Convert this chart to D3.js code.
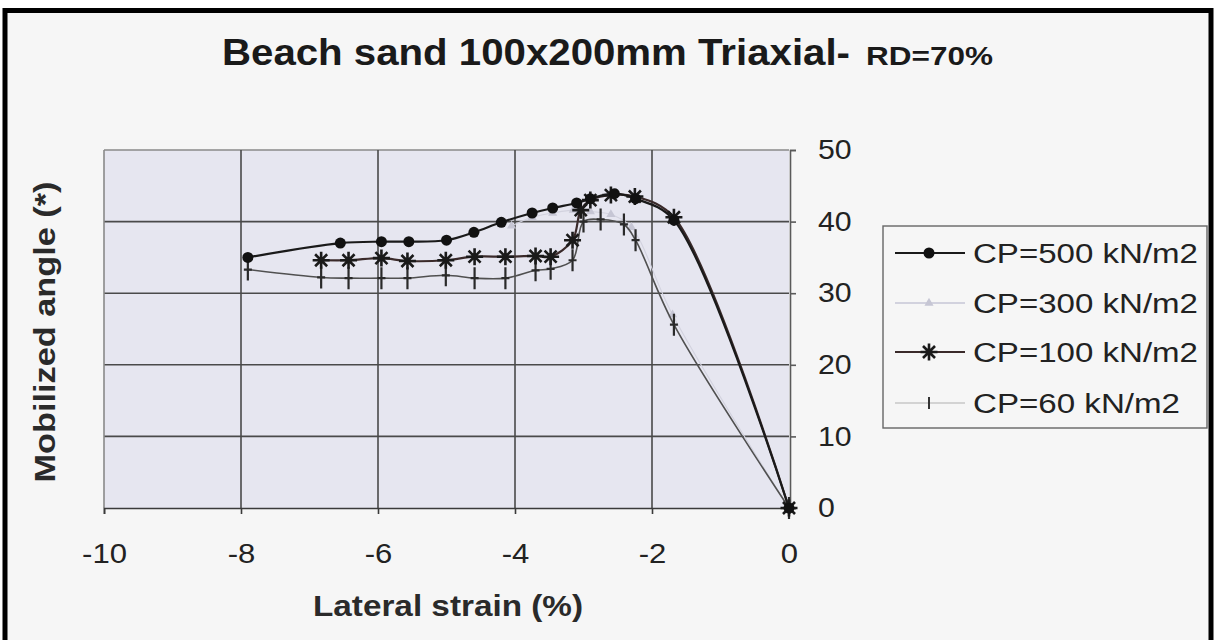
<!DOCTYPE html>
<html>
<head>
<meta charset="utf-8">
<script src="https://cdn.jsdelivr.net/npm/d3@7"></script>
<style>
  html, body { margin: 0; padding: 0; background: #ffffff; }
  svg { display: block; font-family: "Liberation Sans", Arial, sans-serif; }
</style>
</head>
<body>
<svg id="chart" width="1215" height="640"></svg>
<script>
// Axis ticks
const xTicks = [-10, -8, -6, -4, -2, 0];
const yTicks = [0, 10, 20, 30, 40, 50];

// Series labels
const seriesLabels = ["CP=500 kN/m2", "CP=300 kN/m2", "CP=100 kN/m2", "CP=60 kN/m2"];

// CP = 500 kN/m2
const strain500 = [-7.9, -6.55, -5.95, -5.55, -5.0, -4.6, -4.2, -3.75, -3.45, -3.1, -2.9, -2.55, -2.24, -1.68, 0];
const angle500  = [35.0, 37.0, 37.2, 37.2, 37.4, 38.5, 39.9, 41.2, 41.9, 42.6, 43.2, 43.9, 43.2, 40.2, 0];

// CP = 300 kN/m2
const strain300 = [-4.05, -3.75, -3.45, -3.15, -2.9, -2.6, -2.3, -1.7, 0];
const angle300  = [39.4, 40.6, 41.2, 41.6, 41.4, 41.0, 39.2, 27.0, 0];

// CP = 100 kN/m2
const strain100 = [-6.83, -6.43, -5.95, -5.57, -5.01, -4.59, -4.14, -3.70, -3.48, -3.16, -3.04, -2.9, -2.6, -2.25, -1.68, 0];
const angle100  = [34.6, 34.6, 34.9, 34.5, 34.6, 35.1, 35.1, 35.2, 35.1, 37.4, 41.6, 43.0, 43.7, 43.5, 40.6, 0];

// CP = 60 kN/m2
const strain60 = [-7.9, -6.83, -6.43, -5.95, -5.57, -5.01, -4.59, -4.14, -3.70, -3.48, -3.16, -3.0, -2.75, -2.41, -2.24, -1.68, 0];
const angle60  = [33.3, 32.2, 32.1, 32.1, 32.1, 32.5, 32.1, 32.1, 33.2, 33.4, 34.6, 40.0, 40.3, 39.6, 37.4, 25.6, 0];

const svg = d3.select("#chart");

// Page background and frame
svg.append("rect").attr("x", 0).attr("y", 0).attr("width", 1215).attr("height", 640).attr("fill", "#ffffff");
svg.append("rect").attr("x", 5).attr("y", 10.5).attr("width", 1206).attr("height", 640)
  .attr("fill", "#f6f6f6").attr("stroke", "#000").attr("stroke-width", 5);

const x = d3.scaleLinear().domain([-10, 0]).range([104, 789]);
const y = d3.scaleLinear().domain([0, 50]).range([508, 150]);

// Plot area
svg.append("rect")
  .attr("x", x(-10)).attr("y", y(50))
  .attr("width", x(0) - x(-10)).attr("height", y(0) - y(50))
  .attr("fill", "#e6e6f0");

// Gridlines
const grid = svg.append("g").attr("stroke-width", 1.6);
grid.selectAll("line.h").data(yTicks.filter(d => d > 0)).join("line")
  .attr("x1", x(-10)).attr("x2", x(0)).attr("y1", d => y(d)).attr("y2", d => y(d))
  .attr("stroke", d => d === 50 ? "#8a8a8a" : "#4a4a4a");
grid.selectAll("line.v").data(xTicks.filter(d => d < 0)).join("line")
  .attr("y1", y(0)).attr("y2", y(50)).attr("x1", d => x(d)).attr("x2", d => x(d))
  .attr("stroke", d => d === -10 ? "#8a8a8a" : "#4a4a4a");

// Stretch helper for text widths
function stretch(sel, sx) {
  sel.each(function () {
    const w = this.getComputedTextLength();
    d3.select(this).attr("textLength", w * sx).attr("lengthAdjust", "spacingAndGlyphs");
  });
}

// Bottom axis
const xAxis = svg.append("g").attr("transform", `translate(0,${y(0)})`)
  .call(d3.axisBottom(x).tickValues(xTicks).tickSize(6).tickPadding(30).tickFormat(d3.format("d")));
xAxis.select(".domain").attr("stroke", "#3a3a3a").attr("stroke-width", 1.6);
xAxis.selectAll(".tick line").attr("stroke", "#3a3a3a").attr("stroke-width", 1.6);
xAxis.selectAll(".tick text").attr("font-size", 27).attr("fill", "#222")
  .attr("font-family", "Liberation Sans, Arial, sans-serif")
  .text(d => d < 0 ? "-" + Math.abs(d) : d);
stretch(xAxis.selectAll(".tick text"), 1.15);

// Right axis
const yAxis = svg.append("g").attr("transform", `translate(${x(0) + 1},0)`)
  .call(d3.axisRight(y).tickValues(yTicks).tickSize(6).tickPadding(22));
yAxis.select(".domain").attr("stroke", "#5a5a5a").attr("stroke-width", 1.6);
yAxis.selectAll(".tick line").attr("stroke", "#5a5a5a").attr("stroke-width", 1.6);
yAxis.selectAll(".tick text").attr("font-size", 27).attr("fill", "#222")
  .attr("font-family", "Liberation Sans, Arial, sans-serif");
stretch(yAxis.selectAll(".tick text"), 1.12);

// Marker shapes
function drawMarker(g, kind, cx, cy, color) {
  if (kind === "circle") {
    g.append("circle").attr("cx", cx).attr("cy", cy).attr("r", 5.5).attr("fill", color);
  } else if (kind === "triangle") {
    g.append("path").attr("transform", `translate(${cx},${cy})`)
      .attr("d", d3.symbol(d3.symbolTriangle, 36)()).attr("fill", color);
  } else if (kind === "asterisk") {
    const r = 8.5;
    const p = [];
    for (let k = 0; k < 4; k++) {
      const a = k * Math.PI / 4;
      p.push(`M${cx - r * Math.cos(a)},${cy - r * Math.sin(a)}L${cx + r * Math.cos(a)},${cy + r * Math.sin(a)}`);
    }
    g.append("path").attr("d", p.join("")).attr("stroke", color).attr("stroke-width", 2.6).attr("fill", "none");
  } else if (kind === "plus") {
    g.append("path").attr("d", `M${cx},${cy - 11}L${cx},${cy + 11}M${cx - 4},${cy}L${cx + 4},${cy}`)
      .attr("stroke", color).attr("stroke-width", 2.2).attr("fill", "none");
  }
}

const series = [
  { label: seriesLabels[0], xs: strain500, ys: angle500, line: "#1a1a1a", width: 2.2, marker: "circle", mcolor: "#111" },
  { label: seriesLabels[1], xs: strain300, ys: angle300, line: "#d2d2de", width: 1.1, marker: "triangle", mcolor: "#c6c6d4" },
  { label: seriesLabels[2], xs: strain100, ys: angle100, line: "#3a2a2a", width: 2.2, marker: "asterisk", mcolor: "#1a1a1a" },
  { label: seriesLabels[3], xs: strain60, ys: angle60, line: "#505050", width: 1.6, marker: "plus", mcolor: "#2a2a2a" }
];

const lineGen = d3.line().x(d => x(d[0])).y(d => y(d[1])).curve(d3.curveCatmullRom.alpha(0.5));

// Draw series back to front so the heavy curves sit on top
[1, 3, 2, 0].forEach(i => {
  const s = series[i];
  const pts = s.xs.map((v, j) => [v, s.ys[j]]);
  const g = svg.append("g");
  g.append("path").attr("d", lineGen(pts)).attr("fill", "none")
    .attr("stroke", s.line).attr("stroke-width", s.width);
  pts.forEach(p => drawMarker(g, s.marker, x(p[0]), y(p[1]), s.mcolor));
});

// Title
const title = svg.append("text").attr("x", 222).attr("y", 65).attr("fill", "#1a1a1a").attr("font-weight", "bold");
title.append("tspan").attr("font-size", 37).text("Beach sand 100x200mm Triaxial-")
  .attr("textLength", 628).attr("lengthAdjust", "spacingAndGlyphs");
title.append("tspan").attr("x", 866).attr("font-size", 26).text("RD=70%")
  .attr("textLength", 127).attr("lengthAdjust", "spacingAndGlyphs");

// Axis titles
svg.append("text").attr("x", 448).attr("y", 616).attr("text-anchor", "middle")
  .attr("font-size", 29).attr("font-weight", "bold").attr("fill", "#2a2a2a")
  .attr("textLength", 270).attr("lengthAdjust", "spacingAndGlyphs")
  .text("Lateral strain (%)");

svg.append("text").attr("transform", "translate(55,332) rotate(-90)").attr("text-anchor", "middle")
  .attr("font-size", 29).attr("font-weight", "bold").attr("fill", "#2a2a2a")
  .attr("textLength", 301).attr("lengthAdjust", "spacingAndGlyphs")
  .text("Mobilized angle (*)");

// Legend
const legend = svg.append("g");
legend.append("rect").attr("x", 883).attr("y", 226).attr("width", 324).attr("height", 202)
  .attr("fill", "#f6f6f6").attr("stroke", "#666").attr("stroke-width", 1.4);
const rowY = [253, 303, 352, 403];
const textW = [225, 225, 225, 207];
series.forEach((s, i) => {
  const cy = rowY[i];
  legend.append("line").attr("x1", 895).attr("x2", 965).attr("y1", cy).attr("y2", cy)
    .attr("stroke", i === 3 ? "#b0b0b0" : s.line).attr("stroke-width", i === 3 ? 1.2 : 1.8);
  if (s.marker === "plus") {
    legend.append("path").attr("d", `M929,${cy - 6}L929,${cy + 6}`).attr("stroke", "#333").attr("stroke-width", 2);
  } else {
    drawMarker(legend, s.marker, 929, cy, s.mcolor);
  }
  legend.append("text").attr("x", 973).attr("y", cy + 10).attr("font-size", 27).attr("fill", "#222")
    .attr("textLength", textW[i]).attr("lengthAdjust", "spacingAndGlyphs").text(s.label);
});
</script>
</body>
</html>
